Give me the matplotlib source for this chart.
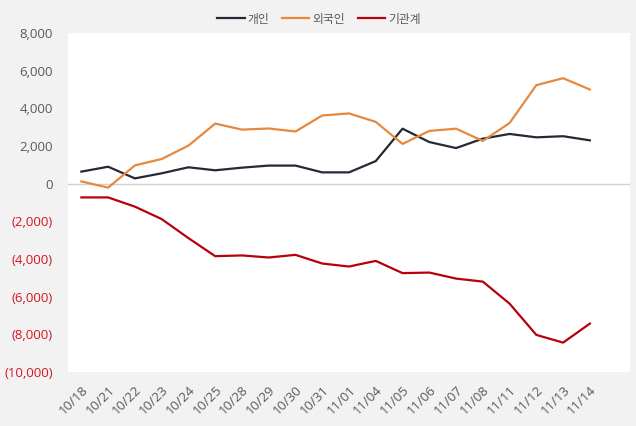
import matplotlib
matplotlib.use("Agg")
import matplotlib.pyplot as plt
from matplotlib.ticker import FuncFormatter

plt.rcParams['font.family'] = ['Open Sans', 'Noto Sans CJK KR', 'DejaVu Sans']

dates = ["10/18", "10/21", "10/22", "10/23", "10/24", "10/25", "10/28", "10/29", "10/30", "10/31",
         "11/01", "11/04", "11/05", "11/06", "11/07", "11/08", "11/11", "11/12", "11/13", "11/14"]
individual = [640, 900, 280, 550, 870, 710, 850, 960, 960, 600,
              600, 1200, 2920, 2210, 1890, 2390, 2640, 2460, 2520, 2300]
foreign = [120, -210, 970, 1310, 2020, 3190, 2870, 2930, 2770, 3620,
           3730, 3280, 2110, 2800, 2920, 2270, 3220, 5230, 5600, 5000]
institution = [-730, -730, -1220, -1880, -2890, -3850, -3810, -3920, -3780, -4240,
               -4400, -4100, -4750, -4720, -5040, -5200, -6370, -8030, -8440, -7430]
series_names = ["개인", "외국인", "기관계"]
colors = ["#222a35", "#e6883e", "#b8000c"]

fig = plt.figure(figsize=(6.36, 4.26), dpi=100, facecolor="#f2f2f2")
ax = fig.add_axes([68/636, 1-372/426, 562/636, 339/426])
ax.set_facecolor("white")

x = list(range(len(dates)))
for vals, name, c in zip([individual, foreign, institution], series_names, colors):
    ax.plot(x, vals, color=c, lw=1.6, label=name)

ax.axhline(0, color="#d0d0d0", lw=1, zorder=0)
ax.set_xlim(-0.5, 20.5)
ax.set_ylim(-10000, 8000)
ax.set_yticks(range(-10000, 8001, 2000))

def fmt(v, pos):
    v = int(round(v))
    if v < 0:
        return f"({-v:,})"
    return f"{v:,}"
ax.yaxis.set_major_formatter(FuncFormatter(fmt))
ax.set_xticks(x)
ax.set_xticklabels(dates, rotation=45, ha="right", va="top", rotation_mode="anchor")

for s in ax.spines.values():
    s.set_visible(False)
ax.tick_params(axis="both", length=0, labelsize=9.5, colors="#595959")
ax.tick_params(axis="y", pad=11)
ax.tick_params(axis="x", pad=8)
for lbl in ax.get_yticklabels():
    if lbl.get_text().startswith("("):
        lbl.set_color("#d3161e")

leg = fig.legend(loc="center", bbox_to_anchor=(319/636, 1-19/426), ncol=3, frameon=False,
                 fontsize=8.5, handlelength=2.3, columnspacing=1.1, handletextpad=0.25,
                 labelcolor="#595959")

fig.savefig("out.png", dpi=100, facecolor=fig.get_facecolor())
